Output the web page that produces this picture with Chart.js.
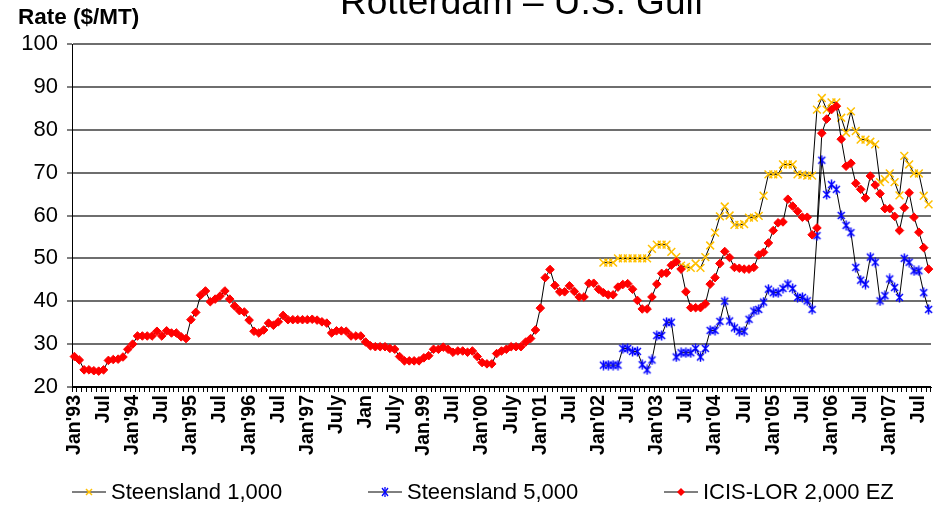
<!DOCTYPE html>
<html>
<head>
<meta charset="utf-8">
<script src="https://cdn.jsdelivr.net/npm/chart.js@4.4.0/dist/chart.umd.min.js"></script>
<style>
html,body{margin:0;padding:0;background:#fff;}
#wrap{position:relative;width:938px;height:505px;overflow:hidden;font-family:Arial,"Liberation Sans",sans-serif;color:#000;}
#c{position:absolute;left:0;top:0;}
.t{position:absolute;white-space:nowrap;line-height:1;}
#title{left:340px;top:-17px;font-size:37px;}
#ylab{left:18px;top:6px;font-size:22.5px;font-weight:bold;}
.leg{position:absolute;top:481px;height:22px;display:flex;align-items:center;font-size:22px;line-height:1;white-space:nowrap;}
.leg svg{margin-right:5px;display:block;}
</style>
</head>
<body>
<div id="wrap">
<canvas id="c" width="938" height="505"></canvas>
<div class="t" id="title">Rotterdam – U.S. Gulf</div>
<div class="t" id="ylab">Rate ($/MT)</div>
<div class="leg" style="left:72px"><svg width="34" height="14"><line x1="0" y1="7" x2="34" y2="7" stroke="#000" stroke-width="1"/><line x1="14" y1="4" x2="20" y2="10" stroke="#FFC000" stroke-width="1.5"/><line x1="20" y1="4" x2="14" y2="10" stroke="#FFC000" stroke-width="1.5"/></svg>Steensland 1,000</div>
<div class="leg" style="left:368px"><svg width="34" height="14"><line x1="0" y1="7" x2="34" y2="7" stroke="#000" stroke-width="1"/><line x1="14" y1="3" x2="20" y2="11" stroke="#0000FF" stroke-width="1.3"/><line x1="20" y1="3" x2="14" y2="11" stroke="#0000FF" stroke-width="1.3"/><line x1="17" y1="2" x2="17" y2="12" stroke="#0000FF" stroke-width="1.3"/></svg>Steensland 5,000</div>
<div class="leg" style="left:664px"><svg width="34" height="14"><line x1="0" y1="7" x2="34" y2="7" stroke="#000" stroke-width="1"/><polygon points="17,3 21,7 17,11 13,7" fill="#FF0000"/></svg>ICIS-LOR 2,000 EZ</div>
</div>
<script>
// ---- DATA ----
const firstYear = 1993;
const monthCount = 177; // Jan'93 .. Sep'07
const monthNames = ['Jan','Feb','Mar','Apr','May','Jun','Jul','Aug','Sep','Oct','Nov','Dec'];

const tickLabels = ["Jan'93","Jul","Jan'94","Jul","Jan'95","Jul","Jan'96","Jul","Jan'97","July",
  "Jan","July","Jan.99","Jul","Jan'00","July","Jan'01","Jul","Jan'02","Jul",
  "Jan'03","Jul","Jan'04","Jul","Jan'05","Jul","Jan'06","Jul","Jan'07","Jul"];

// ICIS-LOR 2,000 EZ, monthly from Jan'93
const icisLor = [
  27.1,26.3,24.0,24.0,23.8,23.7,24.0,26.2,26.4,26.5,27.0,28.8,
  30.0,31.9,31.9,31.9,31.9,33.0,31.9,33.1,32.6,32.6,31.7,31.3,
  35.7,37.4,41.4,42.4,39.9,40.5,41.2,42.4,40.5,38.9,37.8,37.5,
  35.6,33.0,32.6,33.3,34.9,34.4,35.2,36.7,35.7,35.7,35.7,35.7,
  35.7,35.8,35.6,35.2,34.9,32.6,33.1,33.1,33.0,31.9,31.9,31.9,
  30.5,29.6,29.4,29.4,29.4,29.0,28.8,27.1,26.1,26.1,26.1,26.1,
  26.8,27.3,28.8,28.8,29.3,28.8,28.1,28.4,28.4,28.1,28.4,27.1,
  25.7,25.4,25.4,27.8,28.4,28.8,29.4,29.4,29.4,30.5,31.3,33.3,
  38.4,45.5,47.4,43.7,42.2,42.2,43.6,42.3,41.0,41.0,44.2,44.2,
  42.8,42.0,41.5,41.5,43.3,43.9,44.1,42.8,40.2,38.2,38.2,41.0,
  44.0,46.5,46.6,48.4,49.2,47.5,42.2,38.5,38.5,38.5,39.4,44.0,
  45.5,48.8,51.6,50.2,47.9,47.7,47.5,47.5,47.9,50.8,51.4,53.6,
  56.5,58.3,58.5,63.8,62.2,61.0,59.6,59.6,55.5,57.1,79.2,82.5,
  84.7,85.5,77.8,71.5,72.2,67.5,66.1,64.1,69.2,67.1,65.1,61.6,
  61.6,59.8,56.5,61.8,65.3,59.6,56.1,52.5,47.5
];

// Steensland series start at month index 109 (Feb'02)
const steenslandStart = 109;
const steensland1000 = [
  49.0,49.0,49.0,50.0,50.0,50.0,50.0,50.0,50.0,50.0,
  52.2,53.2,53.2,53.2,51.5,50.3,48.3,48.0,47.8,48.8,
  47.8,50.3,53.0,56.0,59.8,62.1,60.0,57.8,57.8,58.0,
  59.5,59.5,59.9,64.6,69.6,69.6,69.6,71.9,71.9,71.9,
  69.6,69.5,69.3,69.3,84.7,87.4,84.7,86.4,86.4,82.8,
  79.3,84.3,79.7,77.7,77.7,77.2,76.6,67.8,68.5,69.8,
  67.8,64.7,73.9,71.9,69.8,69.8,64.6,62.6
];
const steensland5000 = [
  25.1,25.1,25.1,25.1,29.0,29.0,28.3,28.3,25.2,24.0,
  26.3,32.0,32.0,35.1,35.1,27.0,28.0,28.0,28.0,29.0,
  27.0,29.0,33.2,33.2,35.3,40.0,35.4,33.8,33.0,33.0,
  35.8,37.7,38.1,39.8,42.8,42.0,42.0,43.0,44.0,43.0,
  40.9,40.9,40.1,38.1,55.3,72.9,64.9,67.2,66.1,60.0,
  57.7,56.0,47.9,44.9,44.0,50.3,49.1,40.1,41.3,45.2,
  43.2,40.9,50.0,49.1,47.1,47.1,42.0,38.1
];

const yMin = 20, yMax = 100, yStep = 10;

// ---- BUILD ----
const categories = [];
for (let i = 0; i < monthCount; i++) {
  const y = firstYear + Math.floor(i / 12);
  categories.push(monthNames[i % 12] + ' ' + y);
}
const pad = new Array(steenslandStart).fill(null);

function asteriskCanvas(color) {
  const c = document.createElement('canvas');
  c.width = 11; c.height = 11;
  const g = c.getContext('2d');
  g.strokeStyle = color; g.lineWidth = 1.5;
  g.beginPath();
  g.moveTo(2, 2); g.lineTo(9, 9);
  g.moveTo(9, 2); g.lineTo(2, 9);
  g.moveTo(5.5, 0.5); g.lineTo(5.5, 10.5);
  g.stroke();
  return c;
}

const FONT = 'Arial, "Liberation Sans", sans-serif';

new Chart(document.getElementById('c'), {
  type: 'line',
  data: {
    labels: categories,
    datasets: [
      {
        label: 'Steensland 1,000',
        data: pad.concat(steensland1000),
        borderColor: '#000', borderWidth: 1,
        pointStyle: 'crossRot', pointRadius: 5.5,
        pointBorderColor: '#FFC000', pointBackgroundColor: '#FFC000', pointBorderWidth: 1.5,
        tension: 0, order: 2
      },
      {
        label: 'Steensland 5,000',
        data: pad.concat(steensland5000),
        borderColor: '#000', borderWidth: 1,
        pointStyle: asteriskCanvas('#0000FF'), pointRadius: 5,
        pointBorderColor: '#0000FF', pointBackgroundColor: '#0000FF',
        tension: 0, order: 1
      },
      {
        label: 'ICIS-LOR 2,000 EZ',
        data: icisLor,
        borderColor: '#000', borderWidth: 1,
        pointStyle: 'rectRot', pointRadius: 4.3,
        pointBorderColor: '#FF0000', pointBackgroundColor: '#FF0000', pointBorderWidth: 1,
        tension: 0, order: 0
      }
    ]
  },
  options: {
    responsive: false,
    animation: false,
    devicePixelRatio: 1,
    layout: { padding: { top: 44, right: 7, bottom: 40, left: 0 } },
    plugins: { legend: { display: false }, title: { display: false }, tooltip: { enabled: false } },
    elements: { line: { borderJoinStyle: 'round' } },
    scales: {
      x: {
        type: 'category',
        offset: true,
        grid: { offset: true, drawOnChartArea: false, drawTicks: true, tickLength: 5, tickColor: '#000', tickWidth: 1, color: '#000' },
        border: { display: true, color: '#000', width: 1 },
        ticks: {
          autoSkip: false, maxRotation: 90, minRotation: 90, padding: 3,
          color: '#000', font: { family: FONT, size: 19.5, weight: 'bold' },
          callback: function (value, index) { return index % 6 === 0 ? tickLabels[index / 6] : ''; }
        },
        afterFit: function (s) { s.height = 78; s.paddingLeft = 0; s.paddingRight = 0; }
      },
      y: {
        min: yMin, max: yMax,
        grid: {
          color: function (ctx) { return ctx.tick && ctx.tick.value === yMin ? '#000' : '#6e6e6e'; },
          lineWidth: 2, drawTicks: true, tickLength: 5, tickColor: '#000', tickWidth: 1
        },
        border: { display: true, color: '#000', width: 1 },
        ticks: { stepSize: yStep, padding: 9, color: '#000', font: { family: FONT, size: 22 } },
        afterFit: function (s) { s.width = 72; s.paddingTop = 0; s.paddingBottom = 0; }
      }
    }
  }
});
</script>
</body>
</html>
